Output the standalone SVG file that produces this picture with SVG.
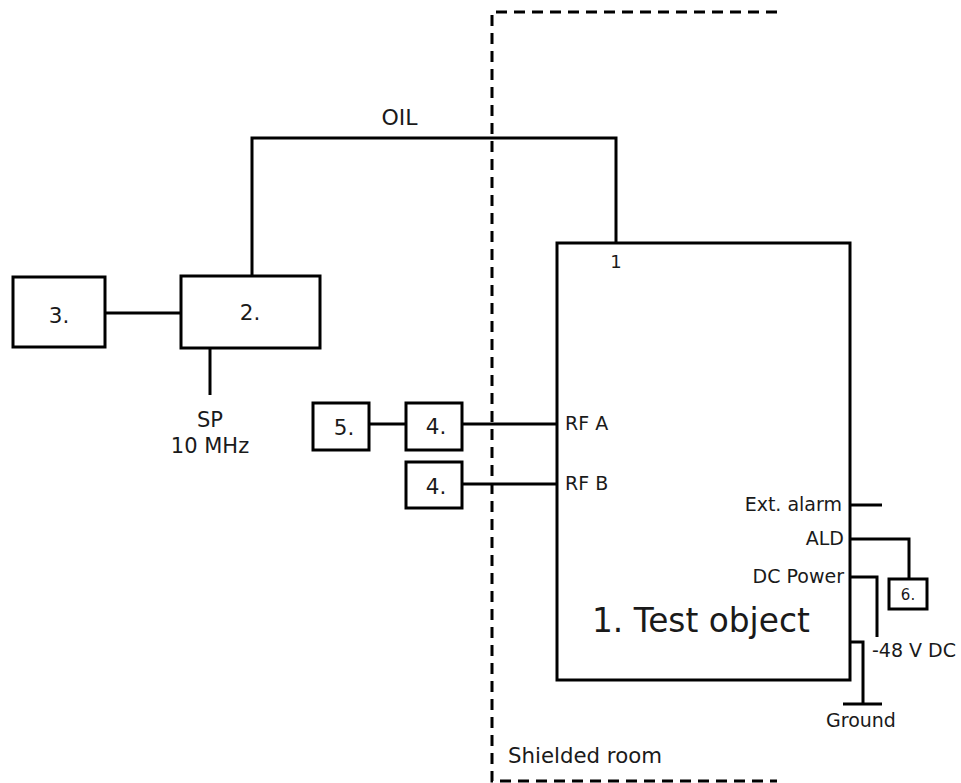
<svg xmlns="http://www.w3.org/2000/svg" width="961" height="783" viewBox="0 0 961 783">
<style>
.box{fill:#fff;stroke:#000;stroke-width:3}
.ln{fill:none;stroke:#000;stroke-width:3}
.dash{fill:none;stroke:#000;stroke-width:3;stroke-dasharray:11 7}
text{font-family:"DejaVu Sans","Verdana",sans-serif;fill:#1a1a1a}
.lbl{font-size:19px}
.bl{font-size:21.5px;text-anchor:middle}
</style>
<rect width="961" height="783" fill="#fff"/>
<g id="shielded-room">
<path class="dash" d="M777,12 H492 V781 H777"/>
<text x="508" y="763" style="font-size:21.3px">Shielded room</text>
</g>
<g id="connectors">
<path class="ln" d="M252,276 V138 H616 V243"/>
<path class="ln" d="M105,313 H181"/>
<path class="ln" d="M210,348 V395"/>
<path class="ln" d="M369,424 H406"/>
<path class="ln" d="M462,424 H557"/>
<path class="ln" d="M462,484 H557"/>
<path class="ln" d="M850,505 H882"/>
<path class="ln" d="M850,539 H909 V579"/>
<path class="ln" d="M850,577 H877 V637"/>
<path class="ln" d="M850,642 H863 V704"/>
<path class="ln" d="M843,704 H882"/>
<text x="399.5" y="125" style="font-size:22px;text-anchor:middle">OIL</text>
<text x="210" y="427" style="font-size:21px;text-anchor:middle">SP</text>
<text x="210" y="453" style="font-size:21px;text-anchor:middle">10 MHz</text>
<text class="lbl" x="872" y="657">-48 V DC</text>
<text class="lbl" x="861" y="727" text-anchor="middle">Ground</text>
</g>
<g id="node-3">
<rect class="box" x="13" y="277" width="92" height="70"/>
<text class="bl" x="59" y="323">3.</text>
</g>
<g id="node-2">
<rect class="box" x="181" y="276" width="139" height="72"/>
<text class="bl" x="250" y="320">2.</text>
</g>
<g id="node-5">
<rect class="box" x="313" y="403" width="56" height="47"/>
<text class="bl" x="344" y="435">5.</text>
</g>
<g id="node-4a">
<rect class="box" x="406" y="403" width="56" height="47"/>
<text class="bl" x="436" y="434">4.</text>
</g>
<g id="node-4b">
<rect class="box" x="406" y="462" width="56" height="46"/>
<text class="bl" x="436" y="494">4.</text>
</g>
<g id="node-1">
<rect class="box" x="557" y="243" width="293" height="437"/>
<text x="616" y="268" style="font-size:18px;text-anchor:middle">1</text>
<text class="lbl" x="565" y="430">RF A</text>
<text class="lbl" x="565" y="490">RF B</text>
<text class="lbl" x="842" y="511" text-anchor="end">Ext. alarm</text>
<text class="lbl" x="844" y="545" text-anchor="end">ALD</text>
<text class="lbl" x="844" y="583" text-anchor="end">DC Power</text>
<text x="592" y="632" style="font-size:32.8px">1. Test object</text>
</g>
<g id="node-6">
<rect class="box" x="889" y="579" width="38" height="30"/>
<text x="908" y="600" style="font-size:15px;text-anchor:middle">6.</text>
</g>
</svg>
